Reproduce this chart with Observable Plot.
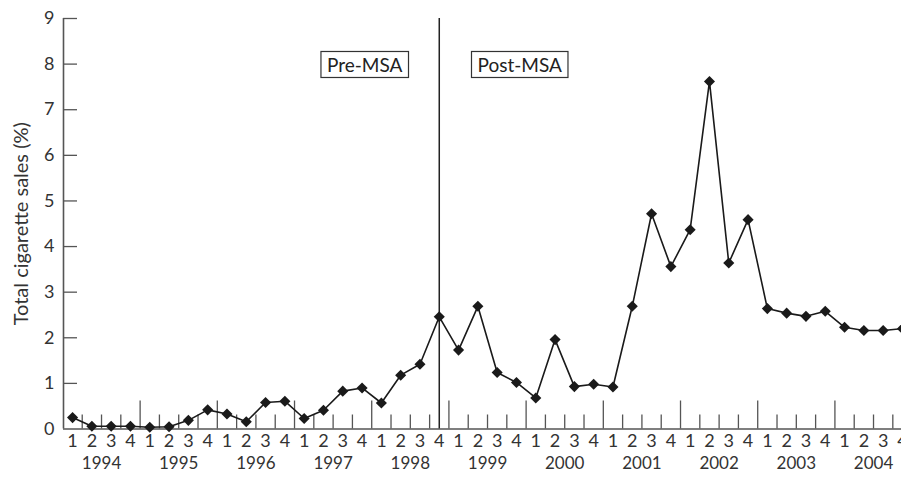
<!DOCTYPE html>
<html><head><meta charset="utf-8">
<script src="https://cdn.jsdelivr.net/npm/d3@7"></script>
<script src="https://cdn.jsdelivr.net/npm/@observablehq/plot@0.6"></script>
<style>
body{margin:0;background:#fff}
#chart svg{font-family:Lato,"Open Sans",sans-serif;}
</style>
</head><body><div id="chart"></div>
<script>
const years = [1994,1995,1996,1997,1998,1999,2000,2001,2002,2003,2004];
const quarterLabels = ["1","2","3","4"];
const sales = [
  0.25,0.06,0.06,0.06,
  0.04,0.05,0.19,0.42,
  0.33,0.16,0.58,0.61,
  0.23,0.41,0.83,0.90,
  0.57,1.18,1.42,2.46,
  1.73,2.69,1.24,1.02,
  0.68,1.96,0.93,0.98,
  0.92,2.69,4.72,3.56,
  4.37,7.62,3.64,4.59,
  2.64,2.54,2.47,2.58,
  2.23,2.16,2.16,2.20
];
const yTicks = [0,1,2,3,4,5,6,7,8,9];
const msaYear = 1998, msaQuarter = 4;
const annotations = ["Pre-MSA","Post-MSA"];
const yLabel = "Total cigarette sales (%)";

const rows = sales.map((v,i)=>({i, year: years[Math.floor(i/4)], q: quarterLabels[i%4], value: v}));
const msaIndex = (msaYear - years[0])*4 + (msaQuarter-1);
const n = rows.length;
const xDomain = [-0.47, n - 1.05];
const boundaries = d3.range(0, n-1).map(i=>i+0.5);
const smallTicks = boundaries.filter(b=>(b+0.5)%4!==0);
const yearTicks = boundaries.filter(b=>(b+0.5)%4===0);
const yearCenters = years.map((y,k)=>({pos: k*4+1.5, year: y}));

const W = 901, H = 477, mL = 63, mT = 18, mB = 48.5;
const frameW = W - mL, frameH = H - mT - mB;
const axisColor = "#555";

const chart = Plot.plot({
  width: W, height: H,
  marginLeft: mL, marginRight: 0, marginTop: mT, marginBottom: mB,
  style: {fontSize: "18px", color: "#333", background: "#fff"},
  x: {domain: xDomain, axis: null},
  y: {domain: [0, 9], axis: null},
  marks: [
    Plot.ruleY([0], {stroke: axisColor, strokeWidth: 1.6}),
    Plot.ruleX([xDomain[0]], {stroke: axisColor, strokeWidth: 1.6}),
    Plot.tickX(smallTicks, {x: d=>d, insetTop: frameH - 14, stroke: axisColor, strokeWidth: 1.3}),
    Plot.tickX(yearTicks, {x: d=>d, insetTop: frameH - 28, stroke: axisColor, strokeWidth: 1.3}),
    Plot.tickY(yTicks.filter(v=>v>0), {y: d=>d, insetRight: frameW - 14, stroke: axisColor, strokeWidth: 1.3}),
    Plot.ruleX([msaIndex], {stroke: "#222", strokeWidth: 1.5}),
    Plot.line(rows, {x: "i", y: "value", stroke: "#1a1a1a", strokeWidth: 1.6}),
    Plot.dot(rows, {x: "i", y: "value", symbol: "diamond2", r: 5, fill: "#1a1a1a", stroke: "none"}),
    Plot.axisY(yTicks, {tickSize: 0, tickPadding: 9, fill: "#333", fontSize: 18, label: null}),
    Plot.axisX(rows.map(d=>d.i), {tickSize: 0, tickPadding: 5, tickFormat: i=>quarterLabels[i%4], fill: "#333", fontSize: 18, label: null}),
    Plot.axisX(yearCenters.map(d=>d.pos), {tickSize: 0, tickPadding: 28, tickFormat: p=>String(years[Math.round((p-1.5)/4)]), fill: "#333", fontSize: 17, label: null}),
    Plot.text([yLabel], {text: d=>d, frameAnchor: "left", textAnchor: "middle", dx: -42, rotate: -90, fill: "#333", fontSize: 20}),
    Plot.text([annotations[0]], {x: [msaIndex], text: d=>d, frameAnchor: "top", dx: -74.6, dy: 40, fill: "#222", fontSize: 19}),
    Plot.text([annotations[1]], {x: [msaIndex], text: d=>d, frameAnchor: "top", dx: 80.4, dy: 40, fill: "#222", fontSize: 19})
  ]
});
document.getElementById("chart").append(chart);

// draw boxes around annotation labels
const svg = d3.select(chart);
svg.selectAll("text").each(function(){
  if (annotations.includes(this.textContent)) {
    const b = this.getBBox();
    const padX = 6, padY = 1.5;
    const t = this.getAttribute("transform");
    const r = document.createElementNS("http://www.w3.org/2000/svg","rect");
    r.setAttribute("x", b.x - padX);
    r.setAttribute("y", b.y - padY);
    r.setAttribute("width", b.width + 2*padX);
    r.setAttribute("height", b.height + 2*padY);
    r.setAttribute("fill", "#fff");
    r.setAttribute("stroke", "#333");
    r.setAttribute("stroke-width", 1.2);
    if (t) r.setAttribute("transform", t);
    this.parentNode.insertBefore(r, this);
  }
});
</script>
</body></html>
